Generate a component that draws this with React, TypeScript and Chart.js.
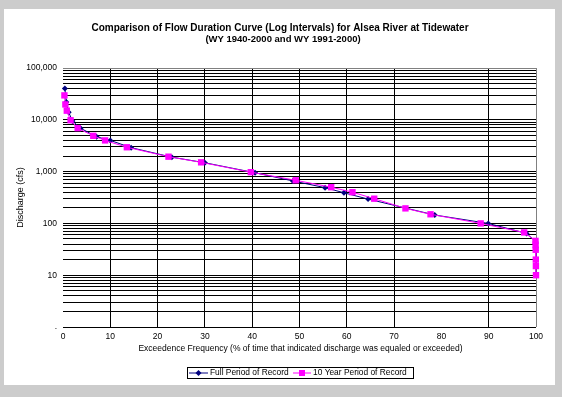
import React, { useEffect, useRef } from "react";
import { Chart, registerables } from "chart.js";
Chart.register(...registerables);

const TITLE1 = "Comparison of Flow Duration Curve (Log Intervals) for Alsea River at Tidewater";
const TITLE2 = "(WY 1940-2000 and WY 1991-2000)";
const X_TITLE = "Exceedence Frequency (% of time that indicated discharge was equaled or exceeded)";
const Y_TITLE = "Discharge (cfs)";
const SERIES_NAMES = ["Full Period of Record", "10 Year Period of Record"];

const fullX = [0.4, 0.7, 1.2, 2.0, 3.7, 7.1, 10, 14.4, 23, 30, 40.6, 48.6, 55.4, 59.4, 64.5, 78.6, 89.9, 98, 99.9, 99.95, 99.98, 100];
const fullY = [40000, 22000, 14000, 9500, 6900, 4700, 4000, 2900, 1900, 1480, 950, 660, 490, 390, 295, 145, 100, 64, 45, 30, 15, 10];

const tenX = [0.3, 0.5, 0.8, 1.6, 3.1, 6.4, 8.9, 13.5, 22.3, 29.2, 39.7, 49.2, 56.7, 61.2, 65.8, 72.4, 77.7, 88.3, 97.5, 99.9, 99.92, 99.94, 99.96, 99.98, 100];
const tenY = [29600, 19800, 15000, 9800, 6900, 4900, 4000, 2950, 1940, 1510, 975, 680, 500, 400, 300, 195, 150, 100, 67, 46, 38, 31, 20, 15, 10];

const yMajorValues = [1, 10, 100, 1000, 10000, 100000];
const yMajorLabels = [".", "10", "100", "1,000", "10,000", "100,000"];
const xTickValues = [0, 10, 20, 30, 40, 50, 60, 70, 80, 90, 100];

const NAVY = "#000080";
const MAGENTA = "#ff00ff";
const FONT = "'Liberation Sans', Arial, sans-serif";

export default function App() {
  const ref = useRef<HTMLCanvasElement | null>(null);
  useEffect(() => {
    document.body.style.margin = "0";
    const canvas = ref.current!;
    const deco = {
      id: "deco",
      beforeDraw(chart: any) {
        const c = chart.ctx;
        c.save();
        c.fillStyle = "#cccccc";
        c.fillRect(0, 0, chart.width, chart.height);
        c.fillStyle = "#ffffff";
        c.fillRect(4, 9, 551, 376);
        c.restore();
      },
      afterDraw(chart: any) {
        const c = chart.ctx;
        const a = chart.chartArea;
        const cx = (a.left + a.right) / 2;
        c.save();
        c.fillStyle = "#000";
        c.textAlign = "center";
        c.textBaseline = "middle";
        c.font = `bold 10px ${FONT}`;
        c.fillText(TITLE1, 280, 28);
        c.font = `bold 9.5px ${FONT}`;
        c.fillText(TITLE2, 283, 39);
        c.font = `8.5px ${FONT}`;
        c.fillText(X_TITLE, cx + 1, 349);
        c.font = `9px ${FONT}`;
        c.save();
        c.translate(21, (a.top + a.bottom) / 2);
        c.rotate(-Math.PI / 2);
        c.fillText(Y_TITLE, 0, 0);
        c.restore();
        // legend
        const lx = 187, ly = 367, lw = 226, lh = 11;
        c.strokeStyle = "#000";
        c.lineWidth = 1;
        c.strokeRect(lx + 0.5, ly + 0.5, lw, lh);
        const my = ly + lh / 2 + 0.5;
        c.textAlign = "left";
        c.font = `8.4px ${FONT}`;
        // series 1
        c.strokeStyle = NAVY;
        c.beginPath();
        c.moveTo(189, my);
        c.lineTo(208, my);
        c.stroke();
        c.fillStyle = NAVY;
        c.beginPath();
        c.moveTo(198.5, my - 3);
        c.lineTo(201.5, my);
        c.lineTo(198.5, my + 3);
        c.lineTo(195.5, my);
        c.closePath();
        c.fill();
        c.fillStyle = "#000";
        c.fillText(SERIES_NAMES[0], 210, my);
        // series 2
        c.strokeStyle = MAGENTA;
        c.beginPath();
        c.moveTo(293, my);
        c.lineTo(311, my);
        c.stroke();
        c.fillStyle = MAGENTA;
        c.fillRect(299, my - 3, 6, 6);
        c.fillStyle = "#000";
        c.fillText(SERIES_NAMES[1], 313, my);
        c.restore();
      },
    };
    const yGridValues: number[] = [];
    for (let k = 0; k < 5; k++) {
      for (let m = 1; m <= 9; m++) yGridValues.push(m * Math.pow(10, k));
    }
    yGridValues.push(100000);

    const chart = new Chart(canvas, {
      type: "line",
      data: {
        datasets: [
          {
            label: SERIES_NAMES[0],
            data: fullX.map((x, i) => ({ x, y: fullY[i] })),
            borderColor: NAVY,
            backgroundColor: NAVY,
            borderWidth: 1,
            pointStyle: "rectRot",
            pointRadius: 3,
            pointBorderWidth: 0,
            order: 1,
            clip: false as any,
          },
          {
            label: SERIES_NAMES[1],
            data: tenX.map((x, i) => ({ x, y: tenY[i] })),
            borderColor: MAGENTA,
            backgroundColor: MAGENTA,
            borderWidth: 1,
            pointStyle: "rect",
            pointRadius: 4.5,
            pointBorderWidth: 0,
            order: 0,
            clip: false as any,
          },
        ],
      },
      options: {
        animation: false,
        responsive: false,
        layout: { padding: { left: 0, top: 68, right: 26, bottom: 50 } },
        plugins: { legend: { display: false }, tooltip: { enabled: false }, title: { display: false } },
        scales: {
          x: {
            type: "linear",
            min: 0,
            max: 100,
            afterFit(s: any) { s.height = 20; },
            afterBuildTicks(s: any) { s.ticks = xTickValues.map((v) => ({ value: v })); },
            border: { display: false },
            grid: {
              drawTicks: false,
              lineWidth: 1,
              color: (ctx: any) => {
                const v = ctx.tick && ctx.tick.value;
                if (v === 0 || v === 80) return "rgba(0,0,0,0)";
                if (v === 100) return "#808080";
                return "#000";
              },
            },
            ticks: { padding: 5, color: "#000", font: { family: FONT, size: 8.5 }, maxRotation: 0, autoSkip: false },
          },
          y: {
            type: "logarithmic",
            min: 1,
            max: 100000,
            afterFit(s: any) { s.width = 63; },
            afterBuildTicks(s: any) { s.ticks = yGridValues.map((v) => ({ value: v })); },
            border: { display: false },
            grid: {
              drawTicks: false,
              lineWidth: 1,
              color: (ctx: any) => (ctx.tick && ctx.tick.value === 100000 ? "#808080" : "#000"),
            },
            ticks: {
              padding: 6,
              color: "#000",
              autoSkip: false,
              font: { family: FONT, size: 8.5 },
              callback: (v: any) => {
                const i = yMajorValues.indexOf(Number(v));
                return i >= 0 ? yMajorLabels[i] : "";
              },
            },
          },
        },
      },
      plugins: [deco],
    } as any);
    return () => chart.destroy();
  }, []);
  return <canvas ref={ref} width={562} height={397} style={{ display: "block" }} />;
}
